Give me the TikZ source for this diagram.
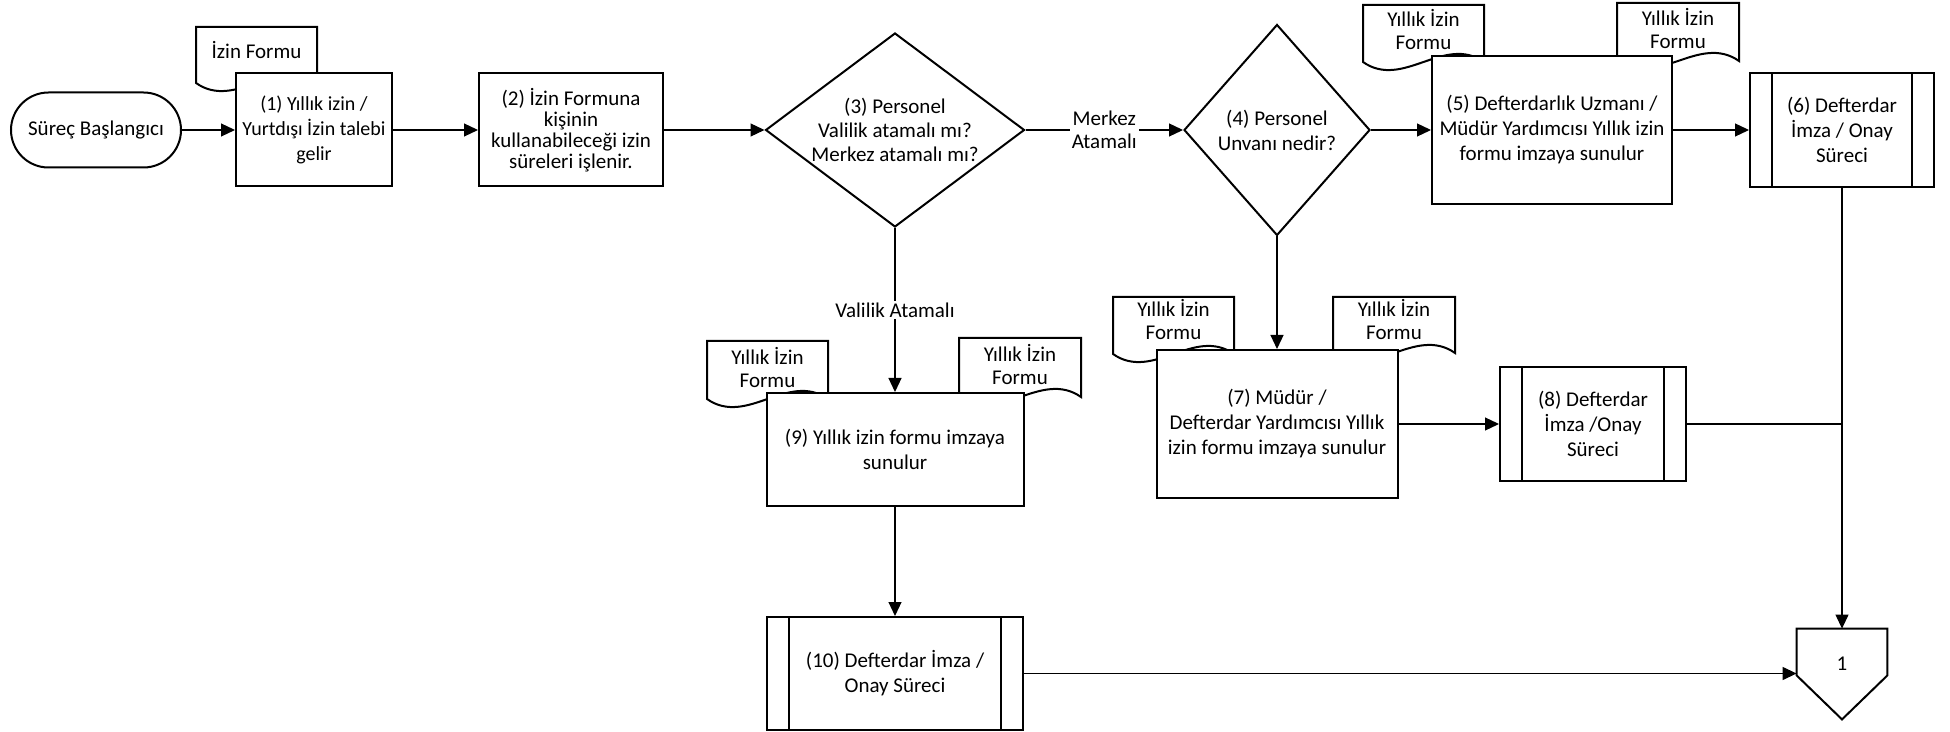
\documentclass[tikz,border=0pt]{standalone}
\usepackage{fontspec}
\setmainfont{Carlito}
\usetikzlibrary{arrows.meta,shapes.geometric,calc}
\begin{document}
\begin{tikzpicture}[x=0.5pt,y=-0.5pt,
  font=\fontsize{10.5pt}{12.5pt}\selectfont,
  box/.style={draw, line width=1pt, fill=white, align=center, inner sep=1pt},
  predef/.style={box, path picture={
     \draw[line width=0.8pt] ([xshift=11pt]path picture bounding box.north west) -- ([xshift=11pt]path picture bounding box.south west);
     \draw[line width=0.8pt] ([xshift=-11pt]path picture bounding box.north east) -- ([xshift=-11pt]path picture bounding box.south east);}},
  dec/.style={draw, line width=1pt, diamond, fill=white, inner sep=0pt},
  txt/.style={align=center, inner sep=0pt},
  doctxt/.style={align=center, inner sep=0pt, font=\fontsize{10.5pt}{11.5pt}\selectfont},
  docsym/.style={draw, line width=1pt, fill=white},
  arr/.style={-{Triangle[length=7pt,width=6.5pt]}, line width=0.6pt},
  con/.style={line width=0.6pt},
  lbl/.style={fill=white, align=center, inner sep=1pt, font=\fontsize{10.5pt}{11.5pt}\selectfont}
]
\useasboundingbox[fill=white] (0,0) rectangle (1950,732);

% documents (drawn first, boxes overlap them)
\draw[docsym] (196,27) -- (317,27) -- (317,83) .. controls (277,55) and (236,111) .. (196,83) -- cycle;
\node[doctxt] (f0) at (256.5,50) {İzin Formu};
\draw[docsym] (1363,5) -- (1484,5) -- (1484,62) .. controls (1444,34) and (1403,90) .. (1363,62) -- cycle;
\node[doctxt] (f5l) at (1423.5,30) {Yıllık İzin\\Formu};
\draw[docsym] (1617,3) -- (1739,3) -- (1739,61) .. controls (1699,33) and (1657,89) .. (1617,61) -- cycle;
\node[doctxt] (f5r) at (1678,29) {Yıllık İzin\\Formu};
\draw[docsym] (707,341) -- (828,341) -- (828,399) .. controls (788,371) and (747,427) .. (707,399) -- cycle;
\node[doctxt] (f9l) at (767.5,368) {Yıllık İzin\\Formu};
\draw[docsym] (959,338) -- (1081,338) -- (1081,397) .. controls (1041,369) and (999,425) .. (959,397) -- cycle;
\node[doctxt] (f9r) at (1020,365) {Yıllık İzin\\Formu};
\draw[docsym] (1113,297) -- (1234,297) -- (1234,354) .. controls (1194,326) and (1153,382) .. (1113,354) -- cycle;
\node[doctxt] (f7l) at (1173.5,320) {Yıllık İzin\\Formu};
\draw[docsym] (1333,297) -- (1455,297) -- (1455,353) .. controls (1415,325) and (1373,381) .. (1333,353) -- cycle;
\node[doctxt] (f7r) at (1394,320) {Yıllık İzin\\Formu};

% process nodes
\node[box, rounded corners=18.75pt, minimum width=85pt, minimum height=37.5pt] (start) at (96,130) {Süreç Başlangıcı};
\node[box, minimum width=78pt, minimum height=56.5pt, font=\fontsize{10pt}{12.5pt}\selectfont] (b1) at (314,130) {(1) Yıllık izin /\\Yurtdışı İzin talebi\\gelir};
\node[box, minimum width=92pt, minimum height=56.5pt, font=\fontsize{10.5pt}{10.5pt}\selectfont] (b2) at (571,130) {(2) İzin Formuna\\kişinin\\kullanabileceği izin\\süreleri işlenir.};
\node[dec, minimum width=129.5pt, minimum height=97pt] (d3) at (895,130) {};
\node[txt, font=\fontsize{10.5pt}{12pt}\selectfont] (d3t) at (d3) {(3) Personel\\Valilik atamalı mı?\\Merkez atamalı mı?};
\node[dec, minimum width=93pt, minimum height=105.5pt] (d4) at (1277,130) {};
\node[txt] (d4t) at (d4) {(4) Personel\\Unvanı nedir?};
\node[box, minimum width=120pt, minimum height=74pt] (b5) at (1552,130) {(5) Defterdarlık Uzmanı /\\Müdür Yardımcısı Yıllık izin\\formu imzaya sunulur};
\node[predef, minimum width=92pt, minimum height=57pt] (b6) at (1842,130) {(6) Defterdar\\İmza / Onay\\Süreci};
\node[box, minimum width=120.5pt, minimum height=74pt] (b7) at (1277,424) {(7) Müdür /\\Defterdar Yardımcısı Yıllık\\izin formu imzaya sunulur};
\node[predef, minimum width=93pt, minimum height=57pt] (b8) at (1593,424) {(8) Defterdar\\İmza /Onay\\Süreci};
\node[box, minimum width=128.5pt, minimum height=56.5pt] (b9) at (895,449.5) {(9) Yıllık izin formu imzaya\\sunulur};
\node[predef, minimum width=128pt, minimum height=56.5pt] (b10) at (895,673.5) {(10) Defterdar İmza /\\Onay Süreci};

% off-page connector
\node[minimum width=45pt, minimum height=23pt, inner sep=0pt] (c1) at (1842,652) {};
\draw[line width=1pt, fill=white] (c1.north west) -- (c1.north east) -- (c1.south east) -- ($(c1.south)+(0,44)$) -- (c1.south west) -- cycle;
\node[txt] (c1t) at (1842,664) {1};

% connectors
\draw[arr] (start) -- (b1);
\draw[arr] (b1) -- (b2);
\draw[arr] (b2) -- (d3.west);
\draw[arr] (d3.east) -- node[lbl] (lm) {Merkez\\Atamalı} (d4.west);
\draw[arr] (d4.east) -- (b5);
\draw[arr] (b5) -- (b6);
\draw[arr] (b6.south) -- (c1.north);
\draw[arr] (d3.south) -- node[lbl] (lv) {Valilik Atamalı} (b9.north);
\draw[arr] (d4.south) -- (b7.north);
\draw[arr] (b7) -- (b8);
\draw[con] (b8.east) -- (b8.east -| b6.south);
\draw[arr] (b9) -- (b10);
\draw[arr] (b10.east) -- (b10.east -| c1.west);
\end{tikzpicture}
\end{document}
